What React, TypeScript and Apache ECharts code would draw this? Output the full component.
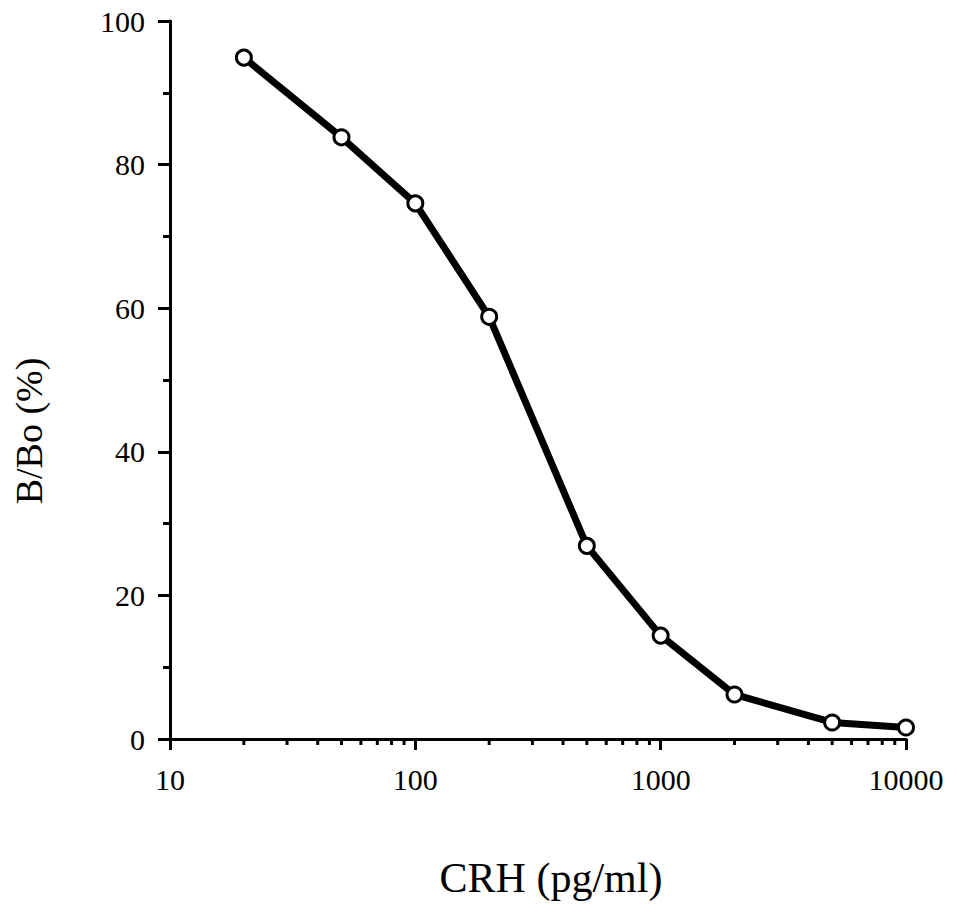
import React, { useEffect, useRef } from "react";
import * as echarts from "echarts";

const concentrations = [20, 50, 100, 200, 500, 1000, 2000, 5000, 10000];
const bBoPercent = [94.9, 83.8, 74.6, 58.8, 26.9, 14.4, 6.2, 2.3, 1.6];
const xMinorTicks = [20, 30, 40, 50, 60, 70, 80, 90, 200, 300, 400, 500, 600, 700, 800, 900, 2000, 3000, 4000, 5000, 6000, 7000, 8000, 9000];
const xAxisTitle = "CRH (pg/ml)";
const yAxisTitle = "B/Bo (%)";

const FONT = "'Liberation Serif', 'Times New Roman', serif";

export default function App() {
  const ref = useRef<HTMLDivElement>(null);
  useEffect(() => {
    if (!ref.current) return;
    const chart = echarts.init(ref.current, null, { renderer: "svg" });
    chart.setOption({
      animation: false,
      backgroundColor: "#ffffff",
      grid: { left: 170, right: 51, top: 21, bottom: 174, containLabel: false },
      xAxis: {
        type: "log",
        logBase: 10,
        min: 10,
        max: 10000,
        axisLine: { show: true, lineStyle: { color: "#000", width: 3 } },
        axisTick: { show: true, length: 11, lineStyle: { color: "#000", width: 3 } },
        axisLabel: {
          color: "#000",
          fontFamily: FONT,
          fontSize: 30,
          margin: 25,
          formatter: (v: number) => String(Math.round(v)),
        },
        splitLine: { show: false },
        minorTick: { show: false },
      },
      yAxis: {
        type: "value",
        min: 0,
        max: 100,
        interval: 20,
        axisLine: { show: true, lineStyle: { color: "#000", width: 3 } },
        axisTick: { show: true, length: 12, lineStyle: { color: "#000", width: 3 } },
        minorTick: { show: true, splitNumber: 2, length: 7, lineStyle: { color: "#000", width: 3 } },
        axisLabel: { color: "#000", fontFamily: FONT, fontSize: 30, margin: 25 },
        splitLine: { show: false },
        minorSplitLine: { show: false },
      },
      graphic: [
        {
          type: "text",
          x: 551,
          y: 878,
          style: { text: xAxisTitle, font: `42px ${FONT}`, fill: "#000", align: "center", verticalAlign: "middle" },
        },
        {
          type: "text",
          x: 29,
          y: 431,
          rotation: Math.PI / 2,
          style: { text: yAxisTitle, font: `38px ${FONT}`, fill: "#000", align: "center", verticalAlign: "middle" },
        },
      ],
      series: [
        {
          type: "custom",
          clip: false,
          silent: true,
          data: xMinorTicks.map((v) => [v, 0]),
          renderItem: (params: any, api: any) => {
            const p = api.coord([api.value(0), 0]);
            return {
              type: "line",
              shape: { x1: p[0], y1: p[1], x2: p[0], y2: p[1] + 6 },
              style: { stroke: "#000", lineWidth: 3 },
            };
          },
          z: 1,
        },
        {
          type: "line",
          data: concentrations.map((c, i) => [c, bBoPercent[i]]),
          symbol: "circle",
          symbolSize: 15,
          showSymbol: true,
          lineStyle: { color: "#000", width: 7 },
          itemStyle: { color: "#fff", borderColor: "#000", borderWidth: 3 },
          z: 3,
        },
      ],
    });
    return () => chart.dispose();
  }, []);
  return <div ref={ref} style={{ position: "fixed", left: 0, top: 0, width: 957, height: 913, background: "#fff" }} />;
}
